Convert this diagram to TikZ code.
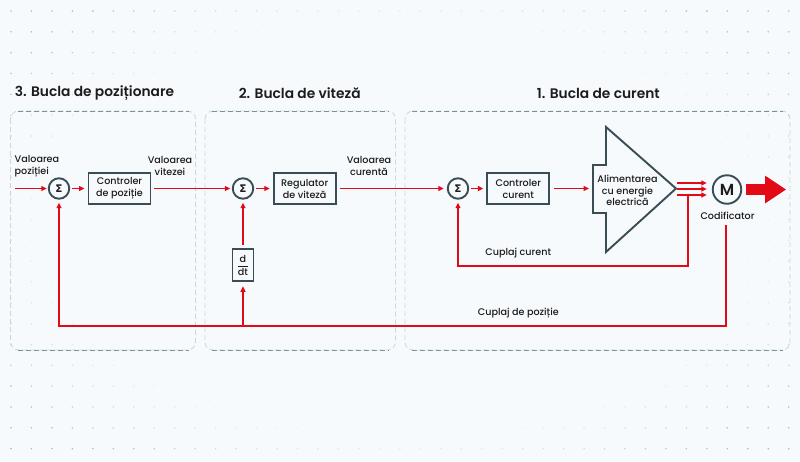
\documentclass[tikz,border=0pt]{standalone}
\usepackage{fontspec}
\setmainfont{Poppins}[UprightFont=* Medium, BoldFont=* SemiBold]
\newfontfamily\symfont{DejaVu Sans}
\usepackage{amsmath}
\usepackage{tikz}
\usetikzlibrary{arrows.meta,backgrounds,calc}
\definecolor{rosu}{HTML}{E30A17}
\definecolor{ardezie}{HTML}{3A4D55}
\definecolor{fundal}{HTML}{F7FAFD}
\definecolor{chenar}{HTML}{7A9494}
\definecolor{chenarlat}{HTML}{CDD4D7}
\definecolor{punct}{HTML}{B4BCC2}
\definecolor{scris}{HTML}{1C1C1C}
\tikzset{
  sig/.style={draw=rosu, line width=1.9pt, -{Triangle[length=5.5pt,width=5pt]}},
  bloc/.style={draw=ardezie, line width=1.9pt, minimum width=62pt, minimum height=31pt,
    align=center, inner sep=1pt, text=scris, font=\fontsize{9.6}{12}\selectfont},
  suma/.style={circle, draw=ardezie, line width=1.9pt, minimum size=20.5pt, inner sep=0pt,
    text=scris, font=\symfont\bfseries\fontsize{10.5}{10.5}\selectfont},
  eticheta/.style={align=center, inner sep=0pt, text=scris, font=\fontsize{9.6}{11.5}\selectfont},
  titlu/.style={inner sep=0pt, text=scris, font=\bfseries\fontsize{13.8}{15}\selectfont},
  bucla/.style={draw=chenarlat, dash pattern=on 5pt off 3pt, line width=0.8pt, rounded corners=8pt},
  buclaorz/.style={draw=chenar, dash pattern=on 5pt off 3pt, line width=0.9pt},
}

\begin{document}
\begin{tikzpicture}[x=1pt,y=-1pt]
\fill[fundal] (0,0) rectangle (800,461);
\useasboundingbox (0,0) rectangle (800,461);
% grila de puncte
\foreach \i in {0,...,38}{
  \foreach \j in {0,...,21}{
    \pgfmathsetmacro\dx{11+20.466*\i}
    \pgfmathsetmacro\dy{11+20.84*\j}
    \pgfmathsetmacro\dop{max(0,min(1,(((\dx-400)/400)^2+((\dy-230)/230)^2-0.7)/0.8))}
    \ifdim\dop pt>0pt \fill[punct,opacity=\dop] (\dx,\dy) circle (0.9pt);\fi
  }}
% cele trei bucle
\foreach \xa/\xb in {10.5/195.5, 205/395.5, 405/790}{
  \draw[bucla] (\xa,111) rectangle (\xb,350);
  \draw[buclaorz] (\xa+7,111) -- (\xb-7,111) (\xa+7,350) -- (\xb-7,350);
}
\node[titlu] (t3) at (94.5,93) {3. Bucla de poziționare};
\node[titlu] (t2) at (299.7,93) {2. Bucla de viteză};
\node[titlu] (t1) at (598.3,93) {1. Bucla de curent};

\node[eticheta, align=left, anchor=west] (vpoz) at (14.5,166) {Valoarea\\poziției};
\node[eticheta] (vvit) at (170,166) {Valoarea\\vitezei};
\node[eticheta] (vcur) at (369,166) {Valoarea\\curentă};

\coordinate (intrare) at (15,188.5);
\node[suma] (s1) at (59,188.5) {Σ};
\node[bloc] (cpoz) at (119.5,188.5) {Controler\\de poziție};
\node[suma] (s2) at (243,188.5) {Σ};
\node[bloc] (rvit) at (304.7,188.5) {Regulator\\de viteză};
\node[bloc, minimum width=21pt, minimum height=32pt, inner sep=0pt] (ddt) at (243,265.3) {$\dfrac{\text{d}}{\text{dt}}$};
\node[suma] (s3) at (458,188.5) {Σ};
\node[bloc] (ccur) at (518.3,188.5) {Controler\\curent};

% alimentarea
\draw[ardezie, line width=1.9pt, line join=miter] (606,127) -- (676,188.5) -- (606,252) -- (606,213)
  -- (593,213) -- (593,165) -- (606,165) -- cycle;
\node[eticheta] (alim) at (627.5,190.7) {Alimentarea\\cu energie\\electrică};
\coordinate (alimin) at (593,188.5);

\node[suma, minimum size=28.5pt, font=\bfseries\fontsize{16}{16}\selectfont] (motor) at (727,189.5) {M};
\node[eticheta] (codif) at (727.5,216) {Codificator};
\node[eticheta] (cc) at (518.3,253.3) {Cuplaj curent};
\node[eticheta] (cp) at (518.3,313.3) {Cuplaj de poziție};

% semnale
\draw[sig, shorten >=1pt] (intrare) -- (s1);
\draw[sig, shorten <=2pt, shorten >=3pt] (s1) -- (cpoz);
\draw[sig, shorten <=3pt, shorten >=1.5pt] (cpoz) -- (s2);
\draw[sig, shorten <=2pt, shorten >=3pt] (s2) -- (rvit);
\draw[sig, shorten <=3pt, shorten >=3pt] (rvit) -- (s3);
\draw[sig, shorten <=2pt, shorten >=3pt] (s3) -- (ccur);
\draw[sig, shorten <=4pt, shorten >=4pt] (ccur) -- (alimin);
\foreach \k/\yy in {a/183,b/189,c/195}{
  \coordinate (iesire\k) at (677,\yy);
  \draw[sig, shorten >=5pt] (iesire\k) -- (iesire\k -| motor.west);
}
\draw[rosu, line width=11pt, -{Triangle[length=21pt,width=26pt]}] ([xshift=4pt]motor.east) -- ([xshift=44pt]motor.east);

% reactii
\coordinate (cfb) at (688,195);
\draw[sig, shorten >=3pt] (cfb) -- ++(0,71) -| (s3.south);
\coordinate (enc) at (726,225);
\draw[sig, shorten >=3pt] (enc) -- ++(0,101) -| (s1.south);
\coordinate (ramif) at (243,326);
\draw[sig, shorten >=4pt] (ramif) -- (ddt.south);
\draw[sig, shorten <=3pt, shorten >=3pt] (ddt) -- (s2);
\end{tikzpicture}
\end{document}
